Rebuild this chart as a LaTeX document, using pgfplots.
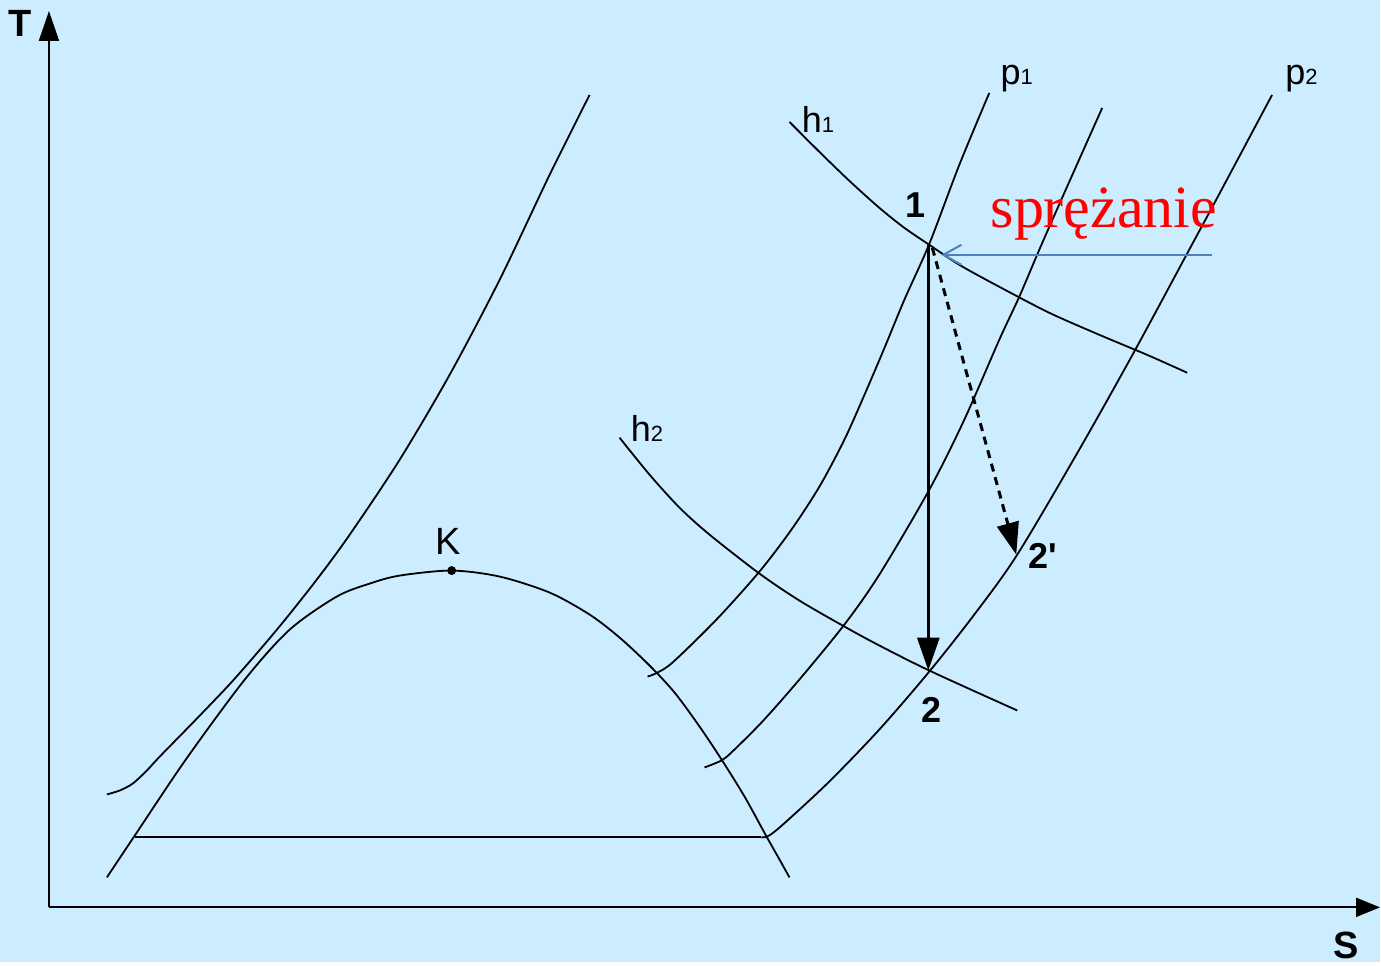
\documentclass[border=0pt]{standalone}
\usepackage{pgfplots}
\pgfplotsset{compat=1.18}
\usetikzlibrary{arrows.meta}
\usepackage{fontspec}
\setmainfont{Liberation Sans}
\newfontfamily\rawsans[Ligatures=TeXOff]{Liberation Sans}
\newfontfamily\serif{Liberation Serif}
\definecolor{bg}{RGB}{204,236,255}
\definecolor{arrblue}{RGB}{79,129,189}
\begin{document}
\begin{tikzpicture}
\begin{axis}[width=690.5pt, height=481.5pt, scale only axis,
  xmin=0, xmax=1381, ymin=0, ymax=963, y dir=reverse,
  hide axis, clip=false]
\fill[bg] (axis cs:0,0) rectangle (axis cs:1381,963);
% axes
\addplot[line width=1pt, -{Triangle[length=15pt,width=10pt]}] coordinates {(49,908) (49,11)};
\addplot[line width=1pt, -{Triangle[length=12pt,width=9.5pt]}] coordinates {(49,908) (1381,908)};
% left curve
\addplot[smooth, tension=0.5, line width=0.9pt] coordinates {
(107,795) (120,791) (133,784) (147,771) (160,757) (200,716) (235,679) (278,629) (317,580) (350,535) (400,460) (450,375) (500,280) (550,175) (590,95)};
% saturation dome
\addplot[smooth, tension=0.5, line width=0.9pt] coordinates {
(107,878) (135,836) (186,760) (245,680) (290,630) (337,597) (370,584) (400,576) (452,571) (500,577) (550,593) (590,615) (620,638) (650,666) (675,693) (700,727) (722,760) (745,797) (767,837) (780,860) (790,878)};
\addplot[line width=0.9pt] coordinates {(135,838) (762,838)};
% p1
\addplot[smooth, tension=0.5, line width=0.9pt] coordinates {
(648,677) (656,674) (673,663) (717,620) (760,572) (792,530) (820,487) (845,440) (866,393) (886,346) (905,300) (930,244) (960,165) (990,93)};
% middle p
\addplot[smooth, tension=0.5, line width=0.9pt] coordinates {
(705,768) (722,761) (733,752) (763,722) (800,680) (845,625) (880,575) (930,490) (965,420) (1000,340) (1020,297) (1040,250) (1062,200) (1103,108)};
% p2
\addplot[smooth, tension=0.5, line width=0.9pt] coordinates {
(762,838) (770,836) (787,822) (830,782) (880,730) (930,672) (975,615) (1018,555) (1080,450) (1135,352) (1190,250) (1217,200) (1273,95)};
% h1
\addplot[smooth, tension=0.5, line width=0.9pt] coordinates {
(790,122) (820,152) (850,181) (880,208) (905,228) (930,245) (960,265) (1000,287) (1050,313) (1100,335) (1150,356) (1188,373)};
% h2
\addplot[smooth, tension=0.5, line width=0.9pt] coordinates {
(620,438) (650,475) (680,508) (710,535) (760,574) (800,601) (845,627) (880,646) (932,672) (1018,711)};
% process arrows
\addplot[line width=1.5pt, -{Triangle[length=16.5pt,width=11pt]}] coordinates {(929,245) (929,671)};
\addplot[line width=1.5pt, dash pattern=on 4pt off 3pt, -{Triangle[length=16pt,width=11pt]}] coordinates {(933,248) (1017,555)};
\addplot[line width=1pt, arrblue, -{Straight Barb[length=9pt,width=10pt]}] coordinates {(1213,255) (942,255)};
% critical point
\addplot[only marks, mark=*, mark size=2pt] coordinates {(452,571)};
% labels
\node[font=\fontsize{19}{22}\selectfont\bfseries] at (axis cs:20,23) {T};
\node[font=\fontsize{19}{22}\selectfont\bfseries] at (axis cs:1347,946) {S};
\node[font=\fontsize{19}{22}\selectfont] at (axis cs:448,542) {K};
\node[anchor=base west, inner sep=0pt, font=\fontsize{18}{22}\selectfont] at (axis cs:1001,85) {p{\fontsize{11}{13}\selectfont 1}};
\node[anchor=base west, inner sep=0pt, font=\fontsize{18}{22}\selectfont] at (axis cs:1286,85) {p{\fontsize{11}{13}\selectfont 2}};
\node[anchor=base west, inner sep=0pt, font=\fontsize{18}{22}\selectfont] at (axis cs:802,133) {h{\fontsize{11}{13}\selectfont 1}};
\node[anchor=base west, inner sep=0pt, font=\fontsize{18}{22}\selectfont] at (axis cs:631,442) {h{\fontsize{11}{13}\selectfont 2}};
\node[font=\fontsize{18}{22}\selectfont\bfseries] at (axis cs:916,205) {1};
\node[font=\fontsize{18}{22}\selectfont\bfseries] at (axis cs:932,710) {2};
\node[font=\rawsans\fontsize{18}{22}\selectfont\bfseries] at (axis cs:1044,556) {2'};
\node[anchor=base west, inner sep=0pt, text=red, font=\serif\fontsize{30}{36}\selectfont] at (axis cs:991,228) {sprężanie};
\end{axis}
\end{tikzpicture}
\end{document}
